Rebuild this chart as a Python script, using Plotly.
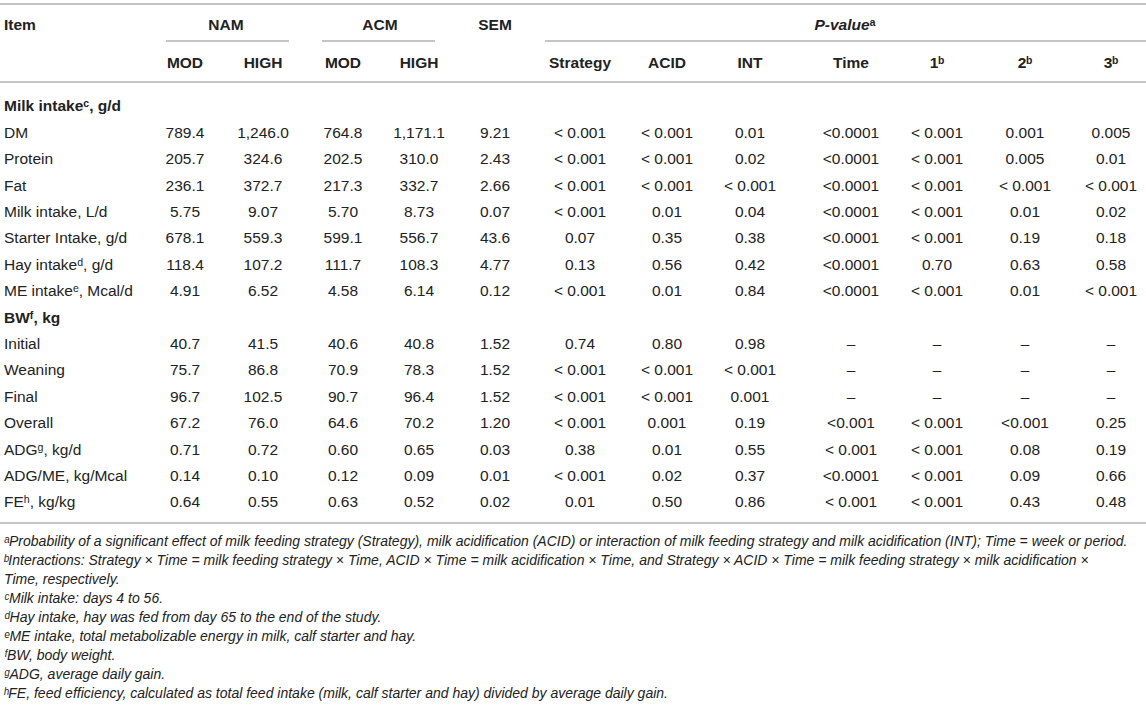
import plotly.graph_objects as go

# ---------------- data ----------------
items = ["DM", "Protein", "Fat", "Milk intake, L/d", "Starter Intake, g/d",
         "Hay intakeᵈ, g/d", "ME intakeᵉ, Mcal/d",
         "Initial", "Weaning", "Final", "Overall", "ADGᵍ, kg/d",
         "ADG/ME, kg/Mcal", "FEʰ, kg/kg"]
group_labels = ["Milk intakeᶜ, g/d", "BWᶠ, kg"]
group_starts = [0, 7]  # index in items where each group begins

nam_mod = ["789.4", "205.7", "236.1", "5.75", "678.1", "118.4", "4.91",
           "40.7", "75.7", "96.7", "67.2", "0.71", "0.14", "0.64"]
nam_high = ["1,246.0", "324.6", "372.7", "9.07", "559.3", "107.2", "6.52",
            "41.5", "86.8", "102.5", "76.0", "0.72", "0.10", "0.55"]
acm_mod = ["764.8", "202.5", "217.3", "5.70", "599.1", "111.7", "4.58",
           "40.6", "70.9", "90.7", "64.6", "0.60", "0.12", "0.63"]
acm_high = ["1,171.1", "310.0", "332.7", "8.73", "556.7", "108.3", "6.14",
            "40.8", "78.3", "96.4", "70.2", "0.65", "0.09", "0.52"]
sem = ["9.21", "2.43", "2.66", "0.07", "43.6", "4.77", "0.12",
       "1.52", "1.52", "1.52", "1.20", "0.03", "0.01", "0.02"]
p_strategy = ["< 0.001", "< 0.001", "< 0.001", "< 0.001", "0.07", "0.13", "< 0.001",
              "0.74", "< 0.001", "< 0.001", "< 0.001", "0.38", "< 0.001", "0.01"]
p_acid = ["< 0.001", "< 0.001", "< 0.001", "0.01", "0.35", "0.56", "0.01",
          "0.80", "< 0.001", "< 0.001", "0.001", "0.01", "0.02", "0.50"]
p_int = ["0.01", "0.02", "< 0.001", "0.04", "0.38", "0.42", "0.84",
         "0.98", "< 0.001", "0.001", "0.19", "0.55", "0.37", "0.86"]
p_time = ["<0.0001", "<0.0001", "<0.0001", "<0.0001", "<0.0001", "<0.0001", "<0.0001",
          "–", "–", "–", "<0.001", "< 0.001", "<0.0001", "< 0.001"]
p_1 = ["< 0.001", "< 0.001", "< 0.001", "< 0.001", "< 0.001", "0.70", "< 0.001",
       "–", "–", "–", "< 0.001", "< 0.001", "< 0.001", "< 0.001"]
p_2 = ["0.001", "0.005", "< 0.001", "0.01", "0.19", "0.63", "0.01",
       "–", "–", "–", "<0.001", "0.08", "0.09", "0.43"]
p_3 = ["0.005", "0.01", "< 0.001", "0.02", "0.18", "0.58", "< 0.001",
       "–", "–", "–", "0.25", "0.19", "0.66", "0.48"]

col_headers = ["MOD", "HIGH", "MOD", "HIGH", "", "Strategy", "ACID", "INT", "Time",
               "1ᵇ", "2ᵇ", "3ᵇ"]
top_headers = ["Item", "NAM", "ACM", "SEM", "<i>P-value</i>ᵃ"]

footnotes = [
    "ᵃProbability of a significant effect of milk feeding strategy (Strategy), milk acidification (ACID) or interaction of milk feeding strategy and milk acidification (INT); Time = week or period.",
    "ᵇInteractions: Strategy × Time = milk feeding strategy × Time, ACID × Time = milk acidification × Time, and Strategy × ACID × Time = milk feeding strategy × milk acidification ×",
    "Time, respectively.",
    "ᶜMilk intake: days 4 to 56.",
    "ᵈHay intake, hay was fed from day 65 to the end of the study.",
    "ᵉME intake, total metabolizable energy in milk, calf starter and hay.",
    "ᶠBW, body weight.",
    "ᵍADG, average daily gain.",
    "ʰFE, feed efficiency, calculated as total feed intake (milk, calf starter and hay) divided by average daily gain.",
]

# ---------------- layout constants ----------------
W, H = 1146, 712
FONT = "Liberation Sans, Arial, DejaVu Sans, sans-serif"
TXT = "#222222"
RULE = "#c4c4c4"
FS = 15.5
FS_NOTE = 14
col_x = [185, 263, 343, 419, 495, 580, 667, 750, 851, 937, 1025, 1111]
top_x = [4, 226, 380, 495, 845]
item_x = 4
y_h1, y_h2 = 26, 64
y_body0, row_h = 107.6, 26.4
y_foot0, foot_h = 542, 19.0

# build body rows (group headers interleaved)
row_labels, row_vals_idx = [], []
for i, it in enumerate(items):
    if i in group_starts:
        g = group_starts.index(i)
        row_labels.append("<b>" + group_labels[g] + "</b>")
        row_vals_idx.append(None)
    row_labels.append(it)
    row_vals_idx.append(i)
row_y = [y_body0 + k * row_h for k in range(len(row_labels))]

columns = [nam_mod, nam_high, acm_mod, acm_high, sem, p_strategy, p_acid,
           p_int, p_time, p_1, p_2, p_3]

fig = go.Figure()


def text_trace(xs, ys, texts, pos, size=FS):
    fig.add_trace(go.Scatter(
        x=xs, y=ys, text=texts, mode="text", textposition=pos,
        textfont=dict(family=FONT, size=size, color=TXT),
        hoverinfo="skip", showlegend=False))


# item column
text_trace([item_x] * len(row_labels), row_y, row_labels, "middle right")

# value columns (skip group-header rows)
for cx, col in zip(col_x, columns):
    ys = [y for y, idx in zip(row_y, row_vals_idx) if idx is not None]
    txt = [col[idx] for idx in row_vals_idx if idx is not None]
    text_trace([cx] * len(txt), ys, txt, "middle center")

# header row 1
text_trace([top_x[0]], [y_h1], ["<b>" + top_headers[0] + "</b>"], "middle right")
text_trace(top_x[1:], [y_h1] * 4, ["<b>" + t + "</b>" for t in top_headers[1:]],
           "middle center")
# header row 2
hx = [x for x, t in zip(col_x, col_headers) if t]
ht = ["<b>" + t + "</b>" for t in col_headers if t]
text_trace(hx, [y_h2] * len(hx), ht, "middle center")

# footnotes
fy = [y_foot0 + k * foot_h for k in range(len(footnotes))]
text_trace([item_x] * len(footnotes), fy, ["<i>" + f + "</i>" for f in footnotes],
           "middle right", size=FS_NOTE)


# rules
def rule(x0, x1, y):
    fig.add_shape(type="line", xref="x", yref="y", x0=x0, x1=x1, y0=y, y1=y,
                  line=dict(color=RULE, width=2), layer="below")


rule(0, W, 4)
rule(166, 289, 41)
rule(322, 435, 41)
rule(545, W, 41)
rule(0, W, 82)
rule(0, W, 523)

fig.update_layout(
    width=W, height=H, margin=dict(l=0, r=0, t=0, b=0),
    paper_bgcolor="white", plot_bgcolor="white",
    xaxis=dict(range=[0, W], visible=False, fixedrange=True),
    yaxis=dict(range=[H, 0], visible=False, fixedrange=True),
    showlegend=False,
)
fig.write_html("out.html", config={"displayModeBar": False},
               post_script="document.body.style.margin='0';document.body.style.overflow='hidden';")
